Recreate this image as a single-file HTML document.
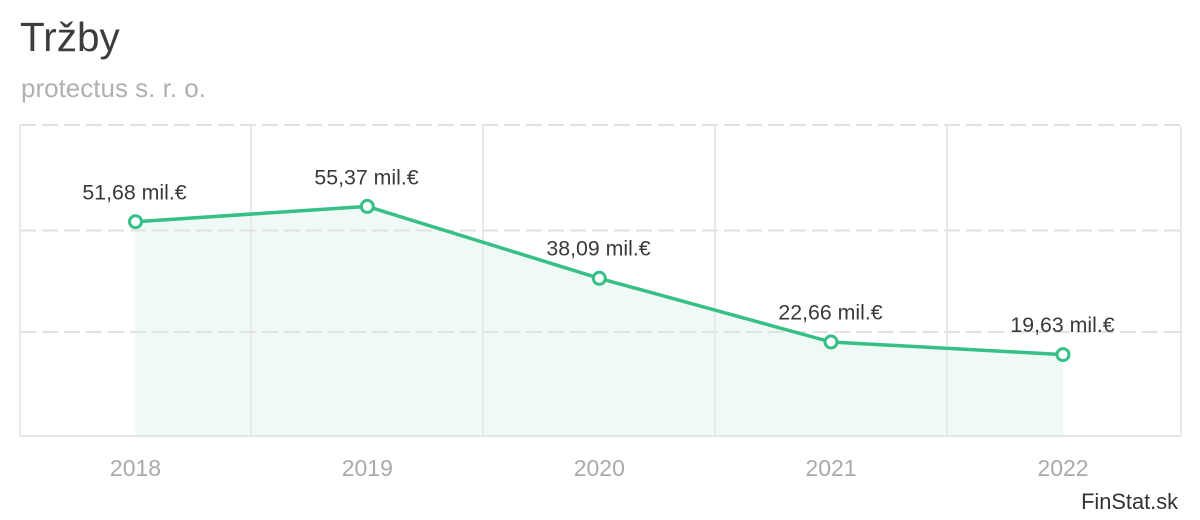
<!DOCTYPE html>
<html>
<head>
<meta charset="utf-8">
<style>
html,body{margin:0;padding:0;background:#fff;}
body{width:1200px;height:520px;overflow:hidden;font-family:"Liberation Sans",Arial,sans-serif;}
svg{display:block;}
</style>
</head>
<body>
<svg width="1200" height="520" viewBox="0 0 1200 520" xmlns="http://www.w3.org/2000/svg" font-family="'Liberation Sans', Arial, sans-serif">
  <text x="20" y="51" font-size="40.5" fill="#3d3d3d">Tržby</text>
  <text x="21" y="97" font-size="26" fill="#b2afb2">protectus s. r. o.</text>

  <!-- area fill -->
  <polygon points="135.5,221.7 367.3,206.4 599.3,278.3 831,342 1063,354.6 1063,435 135.5,435" fill="#eff9f5"/>

  <!-- vertical grid -->
  <g stroke="#e6eaec" stroke-width="2">
    <line x1="20" y1="125" x2="20" y2="436"/>
    <line x1="251" y1="125" x2="251" y2="436"/>
    <line x1="483" y1="125" x2="483" y2="436"/>
    <line x1="715" y1="125" x2="715" y2="436"/>
    <line x1="947" y1="125" x2="947" y2="436"/>
    <line x1="1181" y1="126" x2="1181" y2="437"/>
  </g>
  <!-- horizontal dashed grid -->
  <g stroke="#e2e2e2" stroke-width="2" stroke-dasharray="16,6">
    <line x1="20" y1="125" x2="1181" y2="125"/>
    <line x1="20" y1="230.5" x2="1181" y2="230.5"/>
    <line x1="20" y1="332" x2="1181" y2="332"/>
  </g>
  <line x1="20" y1="436" x2="1180" y2="436" stroke="#e6e6e6" stroke-width="2"/>

  <!-- series line -->
  <polyline points="135.5,221.7 367.3,206.4 599.3,278.3 831,342 1063,354.6" fill="none" stroke="#36bf86" stroke-width="3.5" stroke-linejoin="round"/>
  <g fill="#fff" stroke="#36bf86" stroke-width="3">
    <circle cx="135.5" cy="221.7" r="6"/>
    <circle cx="367.3" cy="206.4" r="6"/>
    <circle cx="599.3" cy="278.3" r="6"/>
    <circle cx="831" cy="342" r="6"/>
    <circle cx="1063" cy="354.6" r="6"/>
  </g>

  <!-- value labels -->
  <g font-size="21.3" fill="#3a3a3a" text-anchor="middle">
    <text x="134.5" y="199.5">51,68 mil.€</text>
    <text x="366.5" y="184.5">55,37 mil.€</text>
    <text x="598.5" y="255.5">38,09 mil.€</text>
    <text x="830.5" y="319.5">22,66 mil.€</text>
    <text x="1062.5" y="332">19,63 mil.€</text>
  </g>

  <!-- year labels -->
  <g font-size="23" fill="#aca9ac" text-anchor="middle">
    <text x="135.5" y="476">2018</text>
    <text x="367.3" y="476">2019</text>
    <text x="599.3" y="476">2020</text>
    <text x="831" y="476">2021</text>
    <text x="1063" y="476">2022</text>
  </g>

  <text x="1178" y="509" font-size="21.8" fill="#333" text-anchor="end">FinStat.sk</text>
</svg>
</body>
</html>
